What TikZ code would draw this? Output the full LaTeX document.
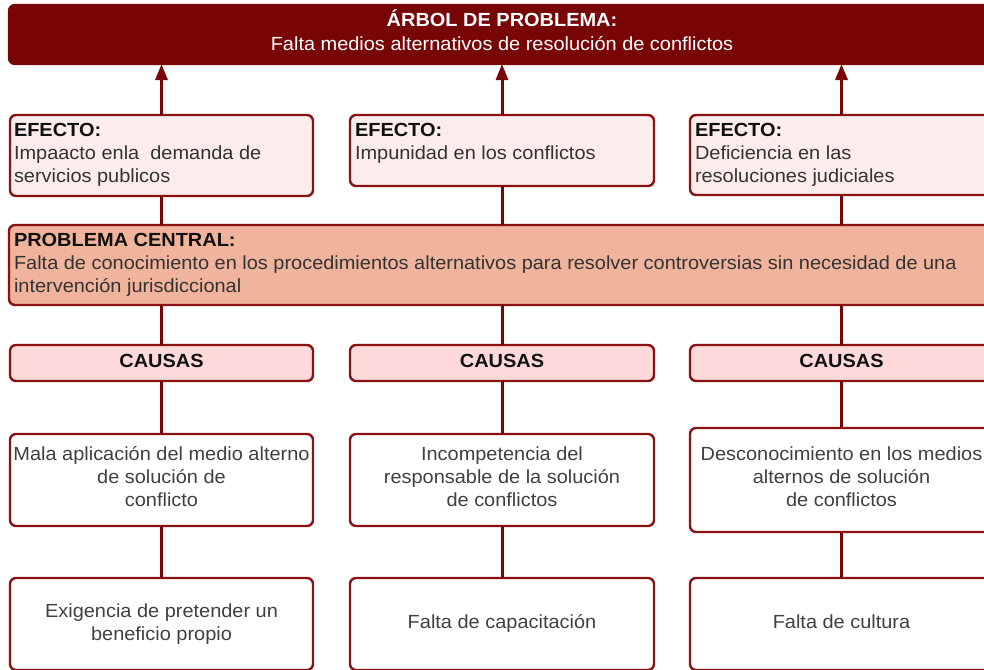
\documentclass[tikz,border=0pt]{standalone}
\usepackage{fontspec}
\setmainfont{Liberation Sans}[FakeStretch=1.05]
\usetikzlibrary{arrows.meta}
\definecolor{maroon}{HTML}{780606}
\definecolor{bord}{HTML}{8A1212}
\definecolor{efill}{HTML}{FDECEC}
\definecolor{pfill}{HTML}{F0B39B}
\definecolor{cfill}{HTML}{FDD9DA}
\definecolor{body}{HTML}{333333}
\definecolor{hdr}{HTML}{111111}
\definecolor{ctext}{HTML}{404040}
\tikzset{
  box/.style={draw=bord, line width=2.4pt, rounded corners=6pt, inner sep=0pt, outer sep=0pt, anchor=north west},
  topbox/.style={box, draw=maroon, fill=maroon},
  effbox/.style={box, fill=efill},
  pcbox/.style={box, fill=pfill},
  causebox/.style={box, fill=cfill},
  plainbox/.style={box, fill=white},
  txt/.style={inner sep=0pt, outer sep=0pt, font=\fontsize{19}{23.4}\selectfont},
  link/.style={draw=maroon, line width=3pt},
  uparrow/.style={link, -{Triangle[width=12pt,length=16pt]}}
}
\begin{document}
\begin{tikzpicture}[x=1pt, y=-1pt]
\useasboundingbox (0,0) rectangle (984,669);
\fill[white] (0,0) rectangle (984,669);
% boxes
\node[topbox, minimum width=985pt, minimum height=59pt] (top) at (9,5) {};
\node[effbox, minimum width=303pt, minimum height=81pt] (e1) at (10,115) {};
\node[effbox, minimum width=304pt, minimum height=71pt] (e2) at (350,115) {};
\node[effbox, minimum width=304pt, minimum height=80pt] (e3) at (690,115) {};
\node[pcbox, minimum width=985pt, minimum height=80pt] (pc) at (9,225) {};
\node[causebox, minimum width=303pt, minimum height=36pt] (c1) at (10,345) {};
\node[causebox, minimum width=304pt, minimum height=36pt] (c2) at (350,345) {};
\node[causebox, minimum width=304pt, minimum height=36pt] (c3) at (690,345) {};
\node[plainbox, minimum width=303pt, minimum height=92pt] (m1) at (10,434) {};
\node[plainbox, minimum width=304pt, minimum height=92pt] (m2) at (350,434) {};
\node[plainbox, minimum width=304pt, minimum height=104pt] (m3) at (690,428) {};
\node[plainbox, minimum width=303pt, minimum height=92pt] (b1) at (10,578) {};
\node[plainbox, minimum width=304pt, minimum height=92pt] (b2) at (350,578) {};
\node[plainbox, minimum width=304pt, minimum height=92pt] (b3) at (690,578) {};
% connectors
\coordinate (x1) at (161.5,0);
\coordinate (x2) at (502,0);
\coordinate (x3) at (841.5,0);
\foreach \i in {1,2,3}{
  \draw[uparrow] (x\i |- e\i.north) -- (x\i |- top.south);
  \draw[link] (x\i |- e\i.south) -- (x\i |- pc.north);
  \draw[link] (x\i |- pc.south) -- (x\i |- c\i.north);
  \draw[link] (x\i |- c\i.south) -- (x\i |- m\i.north);
  \draw[link] (x\i |- m\i.south) -- (x\i |- b\i.north);
}
% texts
\node[txt, anchor=base, text=white] (toptxt) at (502,27) {\parbox[t]{900pt}{\centering\textbf{ÁRBOL DE PROBLEMA:}\\Falta medios alternativos de resolución de conflictos}};
\node[txt, anchor=base west] (e1t) at (14,136) {\parbox[t]{298pt}{\textcolor{hdr}{\textbf{EFECTO:}}\\\textcolor{body}{Impaacto enla~ demanda de}\\\textcolor{body}{servicios publicos}}};
\node[txt, anchor=base west] (e2t) at (355,136) {\parbox[t]{298pt}{\textcolor{hdr}{\textbf{EFECTO:}}\\\textcolor{body}{Impunidad en los conflictos}}};
\node[txt, anchor=base west] (e3t) at (695,136) {\parbox[t]{298pt}{\textcolor{hdr}{\textbf{EFECTO:}}\\\textcolor{body}{Deficiencia en las}\\\textcolor{body}{resoluciones judiciales}}};
\node[txt, anchor=base west] (pct) at (14,246) {\parbox[t]{975pt}{\textcolor{hdr}{\textbf{PROBLEMA CENTRAL:}}\\\textcolor{body}{Falta de conocimiento en los procedimientos alternativos para resolver controversias sin necesidad de una}\\\textcolor{body}{intervención jurisdiccional}}};
\node[txt, anchor=base, text=hdr, font=\fontsize{19}{23.4}\selectfont\bfseries] (c1t) at (161.5,367.5) {CAUSAS};
\node[txt, anchor=base, text=hdr, font=\fontsize{19}{23.4}\selectfont\bfseries] (c2t) at (502,367.5) {CAUSAS};
\node[txt, anchor=base, text=hdr, font=\fontsize{19}{23.4}\selectfont\bfseries] (c3t) at (841.5,367.5) {CAUSAS};
\node[txt, anchor=base, text=ctext] (m1t) at (161.5,460) {\parbox[t]{310pt}{\centering Mala aplicación del medio alterno\\de solución de\\conflicto}};
\node[txt, anchor=base, text=ctext] (m2t) at (502,460) {\parbox[t]{310pt}{\centering Incompetencia del\\responsable de la solución\\de conflictos}};
\node[txt, anchor=base, text=ctext] (m3t) at (841.5,460) {\parbox[t]{310pt}{\centering Desconocimiento en los medios\\alternos de solución\\de conflictos}};
\node[txt, anchor=base, text=ctext] (b1t) at (161.5,617) {\parbox[t]{310pt}{\centering Exigencia de pretender un\\beneficio propio}};
\node[txt, anchor=base, text=ctext] (b2t) at (502,628) {Falta de capacitación};
\node[txt, anchor=base, text=ctext] (b3t) at (841.5,628) {Falta de cultura};
\end{tikzpicture}
\end{document}
